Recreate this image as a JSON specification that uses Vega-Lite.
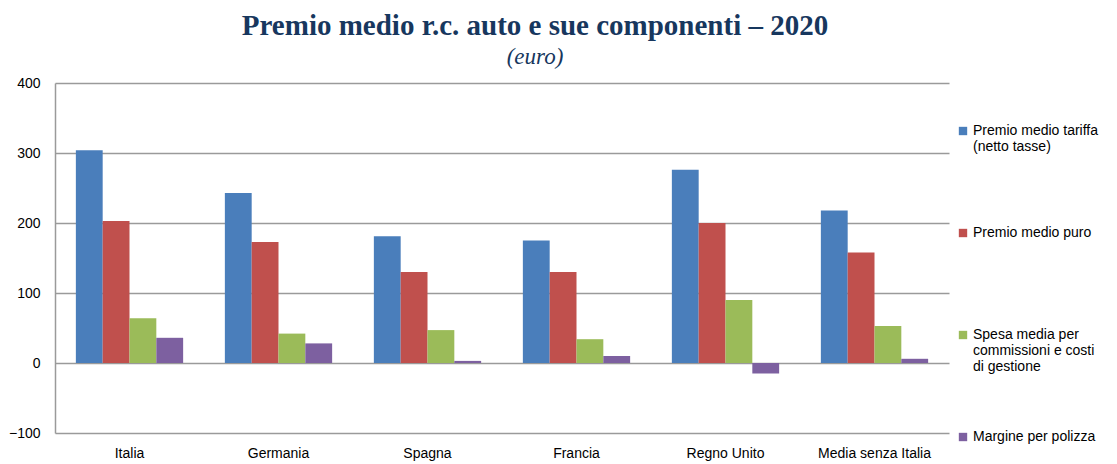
{
  "$schema": "https://vega.github.io/schema/vega-lite/v6.json",
  "autosize": "none",
  "width": 894,
  "height": 350,
  "padding": {"left": 55, "top": 83, "right": 168, "bottom": 31},
  "background": "white",
  "title": {
    "text": "Premio medio r.c. auto e sue componenti – 2020",
    "subtitle": "(euro)",
    "anchor": "middle",
    "frame": "group",
    "dx": 33,
    "offset": 7,
    "font": "Liberation Serif",
    "fontSize": 29,
    "fontWeight": "bold",
    "color": "#17375E",
    "subtitleFont": "Liberation Serif",
    "subtitleFontSize": 23,
    "subtitleFontStyle": "italic",
    "subtitleColor": "#17375E",
    "subtitlePadding": 5
  },
  "data": {
    "values": [
      {"paese": "Italia", "componente": "Premio medio tariffa (netto tasse)", "valore": 304},
      {"paese": "Italia", "componente": "Premio medio puro", "valore": 203},
      {"paese": "Italia", "componente": "Spesa media per commissioni e costi di gestione", "valore": 64},
      {"paese": "Italia", "componente": "Margine per polizza", "valore": 36},
      {"paese": "Germania", "componente": "Premio medio tariffa (netto tasse)", "valore": 243},
      {"paese": "Germania", "componente": "Premio medio puro", "valore": 173},
      {"paese": "Germania", "componente": "Spesa media per commissioni e costi di gestione", "valore": 42},
      {"paese": "Germania", "componente": "Margine per polizza", "valore": 28},
      {"paese": "Spagna", "componente": "Premio medio tariffa (netto tasse)", "valore": 181},
      {"paese": "Spagna", "componente": "Premio medio puro", "valore": 130},
      {"paese": "Spagna", "componente": "Spesa media per commissioni e costi di gestione", "valore": 47},
      {"paese": "Spagna", "componente": "Margine per polizza", "valore": 3},
      {"paese": "Francia", "componente": "Premio medio tariffa (netto tasse)", "valore": 175},
      {"paese": "Francia", "componente": "Premio medio puro", "valore": 130},
      {"paese": "Francia", "componente": "Spesa media per commissioni e costi di gestione", "valore": 34},
      {"paese": "Francia", "componente": "Margine per polizza", "valore": 10},
      {"paese": "Regno Unito", "componente": "Premio medio tariffa (netto tasse)", "valore": 276},
      {"paese": "Regno Unito", "componente": "Premio medio puro", "valore": 200},
      {"paese": "Regno Unito", "componente": "Spesa media per commissioni e costi di gestione", "valore": 90},
      {"paese": "Regno Unito", "componente": "Margine per polizza", "valore": -15},
      {"paese": "Media senza Italia", "componente": "Premio medio tariffa (netto tasse)", "valore": 218},
      {"paese": "Media senza Italia", "componente": "Premio medio puro", "valore": 158},
      {"paese": "Media senza Italia", "componente": "Spesa media per commissioni e costi di gestione", "valore": 53},
      {"paese": "Media senza Italia", "componente": "Margine per polizza", "valore": 6}
    ]
  },
  "mark": {"type": "bar"},
  "encoding": {
    "x": {
      "field": "paese",
      "type": "nominal",
      "sort": ["Italia", "Germania", "Spagna", "Francia", "Regno Unito", "Media senza Italia"],
      "scale": {"paddingInner": 0.28, "paddingOuter": 0.14},
      "axis": {
        "title": null,
        "labelAngle": 0,
        "domain": false,
        "ticks": false,
        "labelPadding": 13,
        "labelFont": "Liberation Sans",
        "labelFontSize": 14,
        "labelColor": "#000000",
        "grid": false
      }
    },
    "xOffset": {
      "field": "componente",
      "type": "nominal",
      "sort": ["Premio medio tariffa (netto tasse)", "Premio medio puro", "Spesa media per commissioni e costi di gestione", "Margine per polizza"],
      "scale": {"paddingInner": 0, "paddingOuter": 0}
    },
    "y": {
      "field": "valore",
      "type": "quantitative",
      "scale": {"domain": [-100, 400], "nice": false, "zero": false},
      "axis": {
        "title": null,
        "values": [-100, 0, 100, 200, 300, 400],
        "ticks": false,
        "domain": true,
        "domainColor": "#9a9a9a",
        "domainWidth": 1.5,
        "grid": true,
        "gridColor": "#9a9a9a",
        "gridWidth": 1.5,
        "labelPadding": 15,
        "labelFont": "Liberation Sans",
        "labelFontSize": 14,
        "labelColor": "#000000"
      }
    },
    "color": {
      "field": "componente",
      "type": "nominal",
      "sort": ["Premio medio tariffa (netto tasse)", "Premio medio puro", "Spesa media per commissioni e costi di gestione", "Margine per polizza"],
      "scale": {
        "domain": ["Premio medio tariffa (netto tasse)", "Premio medio puro", "Spesa media per commissioni e costi di gestione", "Margine per polizza"],
        "range": ["#4A7EBB", "#C0504D", "#9BBB59", "#7D60A0"]
      },
      "legend": {
        "title": null,
        "orient": "none",
        "legendX": 901,
        "legendY": 41,
        "padding": 0,
        "symbolType": "square",
        "symbolSize": 70,
        "symbolStrokeWidth": 0,
        "labelFont": "Liberation Sans",
        "labelFontSize": 14,
        "labelColor": "#000000",
        "labelLineHeight": 18,
        "labelBaseline": "middle",
        "labelOffset": 3,
        "labelLimit": 300,
        "rowPadding": 24,
        "labelExpr": "datum.label == 'Premio medio tariffa (netto tasse)' ? ['Premio medio tariffa', '(netto tasse)', '', '', ''] : datum.label == 'Spesa media per commissioni e costi di gestione' ? ['Spesa media per', 'commissioni e costi', 'di gestione', '', ''] : [datum.label, '', '', '', '']"
      }
    }
  },
  "config": {
    "view": {"stroke": null}
  }
}
